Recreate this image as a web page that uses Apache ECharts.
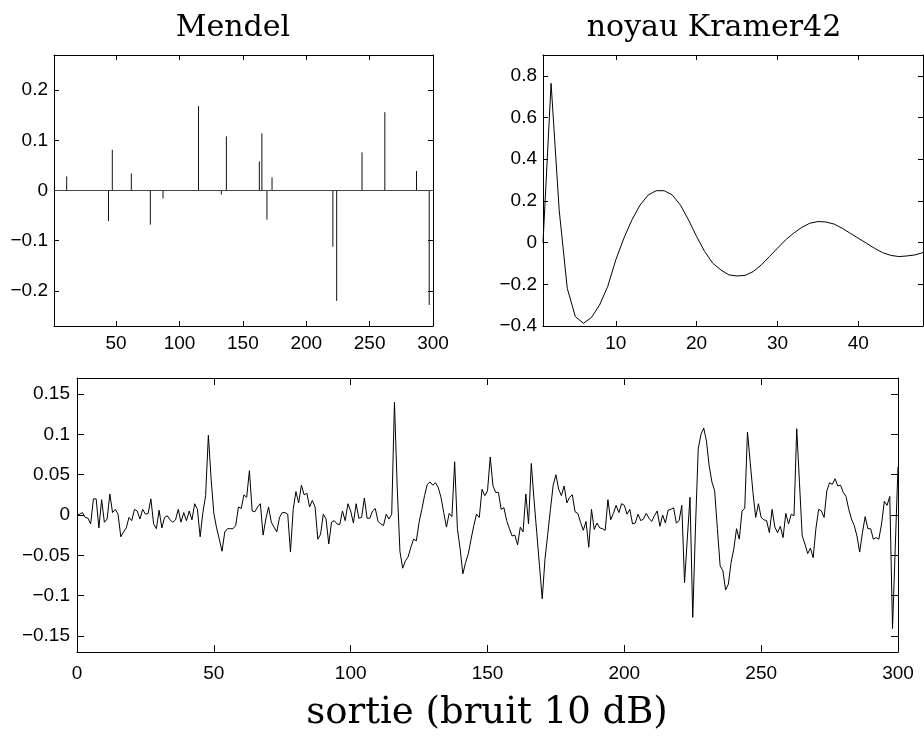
<!DOCTYPE html>
<html>
<head>
<meta charset="utf-8">
<script src="https://cdn.jsdelivr.net/npm/echarts@6/dist/echarts.min.js"></script>
<style>html,body{margin:0;padding:0;background:#fff}#c{width:924px;height:740px}</style>
</head>
<body>
<div id="c"></div>
<script>
// ---- Mendel reflectivity (stems) ----
const mendelX = [11,44,47,62,77,87,115,133,137,163,165,169,173,221,224,244,262,287,297];
const mendelY = [0.028,-0.061,0.081,0.034,-0.068,-0.016,0.168,-0.008,0.108,0.058,0.114,-0.058,0.026,-0.112,-0.220,0.076,0.156,0.039,-0.228];
const mendelXTicks = [50,100,150,200,250,300];
const mendelYTicks = [-0.2,-0.1,0,0.1,0.2];

// ---- Kramer42 kernel, samples 1..48 ----
const kernelY = [0.0,0.764,0.157,-0.219,-0.355,-0.387,-0.359,-0.299,-0.211,-0.083,0.021,0.109,0.18,0.228,0.249,0.249,0.228,0.18,0.109,0.029,-0.043,-0.099,-0.131,-0.155,-0.160,-0.157,-0.139,-0.107,-0.067,-0.027,0.013,0.045,0.073,0.093,0.101,0.099,0.089,0.069,0.045,0.021,-0.003,-0.027,-0.048,-0.061,-0.067,-0.064,-0.059,-0.048];
const kernelXTicks = [10,20,30,40];
const kernelYTicks = [-0.4,-0.2,0,0.2,0.4,0.6,0.8];

// ---- Output signal (noise 10 dB), samples 0..300 ----
const sortieY = [
0.000,0.001,0.003,-0.003,-0.004,-0.011,0.020,0.020,-0.016,0.019,
-0.009,-0.005,0.026,0.003,0.007,0.001,-0.027,-0.021,-0.016,-0.003,
-0.007,0.007,0.005,-0.005,0.007,0.001,0.002,0.020,-0.011,-0.017,
0.006,-0.016,-0.003,-0.001,-0.006,-0.009,-0.006,0.007,-0.009,0.003,
-0.007,0.005,-0.006,0.014,0.007,-0.027,0.003,0.024,0.099,0.045,
0.002,-0.016,-0.030,-0.045,-0.021,-0.017,-0.017,-0.017,-0.013,0.010,
0.008,0.025,0.022,0.055,0.005,0.004,0.010,0.014,-0.025,-0.005,
0.010,-0.009,-0.015,-0.021,-0.003,0.003,0.003,0.001,-0.046,0.007,
0.029,0.015,0.037,0.025,0.027,0.010,0.018,0.010,-0.030,-0.024,
0.001,-0.005,-0.036,-0.009,-0.007,-0.011,-0.012,0.005,-0.007,0.014,
0.005,-0.010,0.014,-0.004,-0.003,0.021,-0.004,-0.004,0.005,0.008,
-0.008,-0.011,-0.013,0.001,-0.005,0.001,0.140,0.035,-0.045,-0.066,
-0.057,-0.052,-0.040,-0.030,-0.032,-0.009,0.007,0.024,0.038,0.041,
0.037,0.040,0.034,0.022,0.003,-0.015,0.002,-0.002,0.066,-0.017,
-0.042,-0.073,-0.059,-0.048,-0.030,-0.013,0.001,-0.003,0.032,0.024,
0.030,0.072,0.036,0.028,0.028,0.007,0.009,-0.007,-0.017,-0.026,
-0.025,-0.037,-0.015,-0.021,0.026,-0.011,0.064,0.019,-0.022,-0.063,
-0.104,-0.055,-0.024,0.007,0.037,0.050,0.032,0.024,0.036,0.015,
0.022,0.025,0.004,0.002,-0.009,-0.019,-0.008,-0.040,0.007,-0.018,
-0.010,-0.016,-0.017,-0.019,0.019,-0.006,0.002,0.012,0.003,0.014,
0.012,0.001,0.007,-0.011,-0.010,0.001,-0.007,-0.005,0.002,-0.004,
-0.008,-0.001,0.005,-0.014,0.000,-0.010,0.006,0.007,0.009,-0.010,
-0.007,0.012,-0.084,-0.030,0.022,-0.127,-0.015,0.082,0.100,0.108,
0.092,0.061,0.041,0.030,-0.017,-0.063,-0.069,-0.093,-0.086,-0.059,
-0.042,-0.017,-0.030,0.005,0.008,0.103,0.065,0.028,-0.003,0.014,
-0.003,-0.006,-0.007,-0.022,0.007,-0.015,-0.022,-0.014,-0.028,0.002,
-0.011,0.001,-0.001,0.107,0.040,-0.026,-0.036,-0.048,-0.041,-0.053,
-0.017,0.007,0.005,-0.003,0.030,0.040,0.038,0.045,0.036,0.037,
0.028,0.023,0.007,-0.005,-0.013,-0.026,-0.046,-0.022,-0.002,-0.017,
-0.017,-0.030,-0.028,-0.030,-0.011,0.017,0.012,0.023,-0.141,-0.040,
0.060];
const sortieXTicks = [0,50,100,150,200,250,300];
const sortieYTicks = [-0.15,-0.1,-0.05,0,0.05,0.1,0.15];

const titles = ['Mendel','noyau Kramer42','sortie (bruit 10 dB)'];

// ---- build ----
const fmt = v => (Math.abs(v) < 1e-12 ? '0' : String(+v.toFixed(4)).replace('-', '\u2212'));
const labelStyle = {color:'#000', fontFamily:'Liberation Sans, Arial, sans-serif', fontSize:19};
function axis(gridIndex, pos, min, max, ticks, showLabel, tickLen, margin) {
  return {
    type:'value', gridIndex, position:pos, min, max,
    axisLine:{show:true, onZero:false, lineStyle:{color:'#000', width:1}},
    axisTick:{show:true, inside:true, length:tickLen, customValues:ticks, lineStyle:{color:'#000', width:1}},
    axisLabel:{show:showLabel, customValues:ticks, formatter:fmt, margin, ...labelStyle},
    splitLine:{show:false}
  };
}

const stemData = mendelX.map((x,i)=>[x, mendelY[i]]);
const kernelData = kernelY.map((v,i)=>[i+1, v]);
const sortieData = sortieY.map((v,i)=>[i, v]);

const option = {
  animation:false,
  backgroundColor:'#fff',
  grid:[
    {left:54, top:55, width:379, height:271, outerBoundsMode:'none'},
    {left:543, top:55, width:380, height:271, outerBoundsMode:'none'},
    {left:77, top:378, width:821, height:274, outerBoundsMode:'none'}
  ],
  xAxis:[
    axis(0,'bottom',1,300,mendelXTicks,true,5,8),
    axis(0,'top',1,300,mendelXTicks,false,5,8),
    axis(1,'bottom',1,48,kernelXTicks,true,5,8),
    axis(1,'top',1,48,kernelXTicks,false,5,8),
    axis(2,'bottom',0,300,sortieXTicks,true,7,12),
    axis(2,'top',0,300,sortieXTicks,false,7,12)
  ],
  yAxis:[
    axis(0,'left',-0.27,0.27,mendelYTicks,true,5,6),
    axis(0,'right',-0.27,0.27,mendelYTicks,false,5,6),
    axis(1,'left',-0.4,0.9,kernelYTicks,true,5,6),
    axis(1,'right',-0.4,0.9,kernelYTicks,false,5,6),
    axis(2,'left',-0.17,0.17,sortieYTicks,true,7,7),
    axis(2,'right',-0.17,0.17,sortieYTicks,false,7,7)
  ],
  series:[
    {
      type:'custom', xAxisIndex:0, yAxisIndex:0, data:stemData, silent:true,
      renderItem:(params, api)=>{
        const p0 = api.coord([api.value(0), 0]);
        const p1 = api.coord([api.value(0), api.value(1)]);
        return {type:'line', shape:{x1:p0[0], y1:p0[1], x2:p1[0], y2:p1[1]}, style:{stroke:'#111', lineWidth:1}};
      },
      markLine:{silent:true, symbol:'none', label:{show:false}, animation:false,
        lineStyle:{color:'#444', width:1, type:'solid'}, data:[{yAxis:0}]}
    },
    {type:'line', xAxisIndex:2, yAxisIndex:2, data:kernelData, showSymbol:false, symbol:'none', silent:true,
      lineStyle:{color:'#000', width:1}},
    {type:'line', xAxisIndex:4, yAxisIndex:4, data:sortieData, showSymbol:false, symbol:'none', silent:true,
      lineStyle:{color:'#000', width:1}}
  ],
  graphic:[
    {type:'text', x:233, y:28, silent:true, style:{text:titles[0], fill:'#000', font:'30px "DejaVu Serif", serif', align:'center', verticalAlign:'middle'}},
    {type:'text', x:714, y:28, silent:true, style:{text:titles[1], fill:'#000', font:'30px "DejaVu Serif", serif', align:'center', verticalAlign:'middle'}},
    {type:'text', x:487, y:713, silent:true, style:{text:titles[2], fill:'#000', font:'37px "DejaVu Serif", serif', align:'center', verticalAlign:'middle'}}
  ]
};
const chart = echarts.init(document.getElementById('c'), null, {renderer:'canvas'});
chart.setOption(option);
</script>
</body>
</html>
